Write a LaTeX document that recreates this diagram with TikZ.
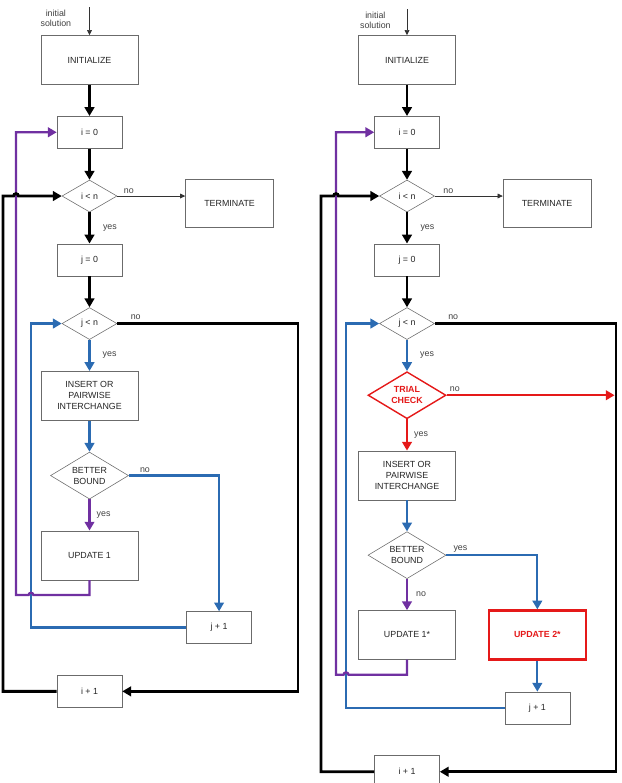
\documentclass[tikz,border=0pt]{standalone}
\usepackage{fontspec}
\setmainfont{Liberation Sans}
\usepackage{tikz}
\usetikzlibrary{arrows.meta,positioning,shapes.geometric,calc}
\definecolor{flowblue}{rgb}{0.17,0.42,0.70}
\definecolor{flowpurple}{rgb}{0.44,0.19,0.63}
\definecolor{flowred}{rgb}{0.90,0.10,0.10}
\definecolor{boxline}{gray}{0.42}
\newcommand{\boxfont}{\fontsize{6.3}{7.8}\selectfont}
\tikzset{
  box/.style  ={rectangle, draw=boxline, fill=white, align=center, font=\boxfont,
                text=black!85, minimum width=24.25mm, minimum height=12.25mm, inner sep=1pt},
  sbox/.style ={box, minimum width=16.25mm, minimum height=8mm},
  tbox/.style ={box, minimum width=22mm, minimum height=12mm},
  rbox/.style ={box, draw=flowred, line width=1.5pt, text=flowred, font=\boxfont\bfseries}, % new step
  dec/.style  ={diamond, aspect=1.7, draw=boxline, fill=white, align=center, font=\boxfont,
                text=black!85, minimum width=13.75mm, minimum height=8mm, inner sep=0pt},
  bdec/.style ={dec, minimum width=19.5mm, minimum height=11.75mm},
  rdec/.style ={bdec, draw=flowred, line width=1pt, text=flowred, font=\boxfont\bfseries}, % new test
  lbl/.style  ={font=\boxfont, text=black!75, align=center, inner sep=1.5pt},
  flowK/.style={-{Triangle[length=2.2mm,width=2.4mm]}, line width=2pt, draw=black},
  flowB/.style={flowK, line width=1.6pt, draw=flowblue},
  flowP/.style={flowK, line width=1.6pt, draw=flowpurple},
  flowR/.style={flowK, line width=1.6pt, draw=flowred},
  thin/.style ={-{Triangle[length=1.3mm,width=1.2mm]}, line width=0.5pt, draw=black!80},
}

\begin{document}
\begin{tikzpicture}[node distance=7.8mm]
  \useasboundingbox (0,0) rectangle (155.25mm,-195.75mm);

  % left: original scheme
  \node[box]                     (a-init) at (22.375mm,-15mm) {INITIALIZE};
  \node[sbox, below=of a-init]   (a-i0)   {i = 0};
  \node[dec,  below=of a-i0]     (a-in1)  {i < n};
  \node[tbox, right=17mm of a-in1, yshift=-1.75mm] (a-term) {TERMINATE};
  \node[sbox, below=of a-in1]    (a-j0)   {j = 0};
  \node[dec,  below=of a-j0]     (a-jn)   {j < n};
  \node[box,  below=of a-jn]     (a-ins)  {INSERT OR\\PAIRWISE\\INTERCHANGE};
  \node[bdec, below=of a-ins]    (a-bb)   {BETTER\\BOUND};
  \node[box,  below=of a-bb]     (a-upd1) {UPDATE 1};
  \node[sbox, below right=7.8mm and 12mm of a-upd1] (a-jp1) {j + 1};
  \node[sbox, anchor=north, yshift=-7.8mm] (a-ip1) at (a-jp1.south -| a-upd1) {i + 1};
  \coordinate (a-start) at ($(a-init.north)+(0,7mm)$);
  \node[lbl, below left=0mm and 4mm of a-start] (a-sol) {initial\\solution};
  \coordinate (a-llane) at ($(a-init)+(-21.625mm,0)$);
  \coordinate (a-plane) at ($(a-init)+(-18.375mm,0)$);
  \coordinate (a-blane) at ($(a-init)+(-14.625mm,0)$);
  \coordinate (a-rlane) at ($(a-init)+(52.125mm,0)$);

  \draw[thin]  (a-start) -- (a-init);
  \draw[flowK] (a-init) -- (a-i0);
  \draw[flowK] (a-i0) -- (a-in1);
  \draw[thin]  (a-in1.east) -- node[lbl, above, pos=0.17]{no} (a-in1.east -| a-term.west);
  \draw[flowK] (a-in1) -- node[lbl, right, xshift=2.5mm]{yes} (a-j0);
  \draw[flowK] (a-j0) -- (a-jn);
  \draw[flowB] (a-jn) -- node[lbl, right, xshift=2.5mm]{yes} (a-ins);
  \draw[flowB] (a-ins) -- (a-bb);
  \draw[flowP] (a-bb) -- node[lbl, right, xshift=1mm]{yes} (a-upd1);
  \draw[flowB] (a-bb.east) node[lbl, above right, xshift=2mm]{no} -| (a-jp1);
  \draw[flowK] (a-jn.east) node[lbl, above right, xshift=2.5mm]{no} -| (a-rlane |- a-ip1) -- (a-ip1);
  \draw[flowB] (a-jp1) -| (a-blane |- a-jn) -- (a-jn);
  \draw[flowP] (a-upd1.south) -- ($(a-upd1.south)+(0,-3.75mm)$)
    -- ($(a-blane |- a-upd1.south)+(0.6mm,-3.75mm)$) arc[start angle=0, end angle=180, radius=0.6mm]
    -- ($(a-plane |- a-upd1.south)+(0,-3.75mm)$) |- (a-i0);
  \draw[flowK] (a-ip1) -| (a-llane |- a-in1)
    -- ($(a-plane |- a-in1)+(-0.6mm,0)$) arc[start angle=180, end angle=0, radius=0.6mm] -- (a-in1);

  % right: scheme with trial check
  \node[box]                     (b-init) at (101.75mm,-15mm) {INITIALIZE};
  \node[sbox, below=of b-init]   (b-i0)   {i = 0};
  \node[dec,  below=of b-i0]     (b-in1)  {i < n};
  \node[tbox, right=17mm of b-in1, yshift=-1.75mm] (b-term) {TERMINATE};
  \node[sbox, below=of b-in1]    (b-j0)   {j = 0};
  \node[dec,  below=of b-j0]     (b-jn)   {j < n};
  \node[rdec, below=of b-jn]     (b-trial) {TRIAL\\CHECK};
  \node[box,  below=of b-trial]  (b-ins)  {INSERT OR\\PAIRWISE\\INTERCHANGE};
  \node[bdec, below=of b-ins]    (b-bb)   {BETTER\\BOUND};
  \node[box,  below=of b-bb]     (b-upd1) {UPDATE 1*};
  \node[rbox, right=8mm of b-upd1] (b-upd2) {UPDATE 2*};
  \node[sbox, below=of b-upd2]   (b-jp1)  {j + 1};
  \node[sbox, anchor=north, yshift=-7.8mm] (b-ip1) at (b-jp1.south -| b-upd1) {i + 1};
  \coordinate (b-start) at ($(b-init.north)+(0,6.5mm)$);
  \node[lbl, below left=0mm and 3.5mm of b-start] (b-sol) {initial\\solution};
  \coordinate (b-llane) at ($(b-init)+(-21.5mm,0)$);
  \coordinate (b-plane) at ($(b-init)+(-17.75mm,0)$);
  \coordinate (b-blane) at ($(b-init)+(-15.25mm,0)$);
  \coordinate (b-rlane) at ($(b-init)+(52.25mm,0)$);

  \draw[thin]  (b-start) -- (b-init);
  \draw[flowK] (b-init) -- (b-i0);
  \draw[flowK] (b-i0) -- (b-in1);
  \draw[thin]  (b-in1.east) -- node[lbl, above, pos=0.2]{no} (b-in1.east -| b-term.west);
  \draw[flowK] (b-in1) -- node[lbl, right, xshift=2.5mm]{yes} (b-j0);
  \draw[flowK] (b-j0) -- (b-jn);
  \draw[flowK] (b-jn.east) node[lbl, above right, xshift=2.5mm]{no} -| (b-rlane |- b-ip1) -- (b-ip1);
  \draw[flowB] (b-jn) -- node[lbl, right, xshift=2.5mm]{yes} (b-trial);
  \draw[flowR] (b-trial) -- node[lbl, right, xshift=1mm]{yes} (b-ins);
  \draw[flowR, shorten >=1pt] (b-trial.east) node[lbl, above right]{no} -- (b-trial.east -| b-rlane);
  \draw[flowB] (b-ins) -- (b-bb);
  \draw[flowP] (b-bb) -- node[lbl, right, xshift=1.5mm]{no} (b-upd1);
  \draw[flowB] (b-bb.east) node[lbl, above right, xshift=1mm]{yes} -| (b-upd2);
  \draw[flowB] (b-upd2) -- (b-jp1);
  \draw[flowB] (b-jp1) -| (b-blane |- b-jn) -- (b-jn);
  \draw[flowP] (b-upd1.south) -- ($(b-upd1.south)+(0,-3.75mm)$)
    -- ($(b-blane |- b-upd1.south)+(0.6mm,-3.75mm)$) arc[start angle=0, end angle=180, radius=0.6mm]
    -- ($(b-plane |- b-upd1.south)+(0,-3.75mm)$) |- (b-i0);
  \draw[flowK] (b-ip1) -| (b-llane |- b-in1)
    -- ($(b-plane |- b-in1)+(-0.6mm,0)$) arc[start angle=180, end angle=0, radius=0.6mm] -- (b-in1);
\end{tikzpicture}
\end{document}
